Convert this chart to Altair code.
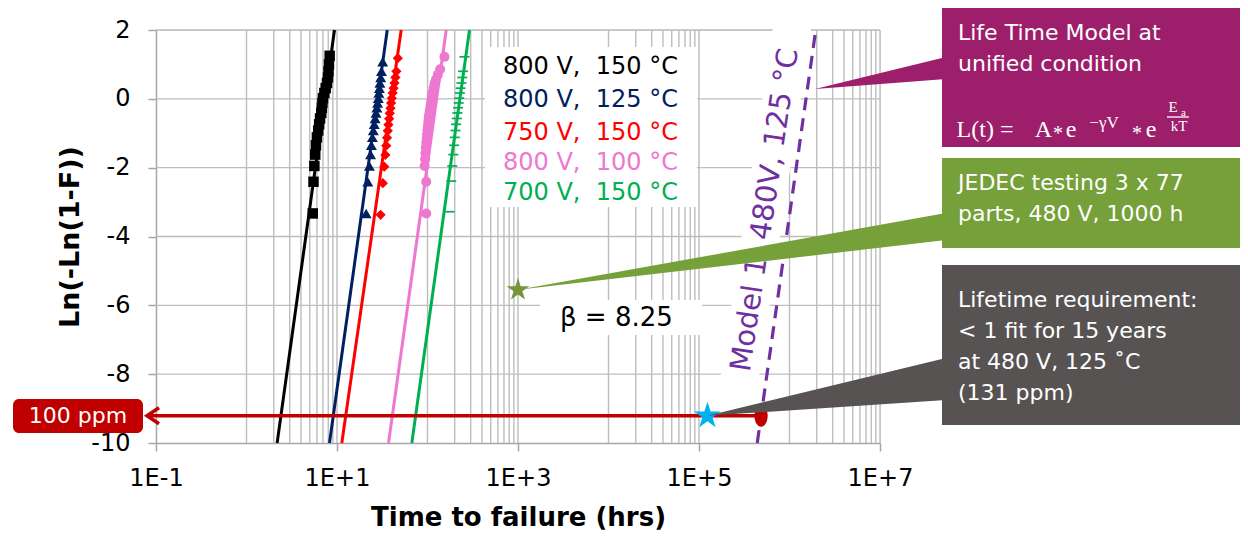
import math
import altair as alt
import pandas as pd

# ---------------------------------------------------------------- data
SERIES = ["800 V,\u00a0 150 °C", "800 V,\u00a0 125 °C", "750 V,\u00a0 150 °C", "800 V,\u00a0 100 °C", "700 V,\u00a0 150 °C"]
COLORS = ["#000000", "#002060", "#FF0000", "#EE77D0", "#00B050"]
SHAPES = ["square", "triangle-up", "diamond", "circle", "M-1,-0.17L1,-0.17L1,0.17L-1,0.17Z"]
SIZES = [110, 120, 105, 100, 100]

black_t = [5.40, 5.50, 5.62, 5.75, 5.85, 6.00, 6.20, 6.35, 6.50, 6.70, 6.80, 6.90, 7.00, 7.25, 7.50, 7.75, 7.95, 8.05, 8.15, 8.30]
black_y = [-3.33, -2.41, -1.95, -1.62, -1.35, -1.12, -0.92, -0.74, -0.57, -0.41, -0.26, -0.12, 0.02, 0.17, 0.31, 0.46, 0.62, 0.80, 1.00, 1.25]
blue_t = [21.0, 21.9, 22.8, 23.5, 24.0, 24.6, 25.2, 25.8, 26.4, 27.0, 27.6, 28.1, 28.6, 29.0, 29.4, 29.8, 30.4, 31.0, 32.0]
blue_y = [-3.33, -2.41, -1.95, -1.62, -1.35, -1.12, -0.92, -0.74, -0.57, -0.41, -0.26, -0.12, 0.02, 0.17, 0.31, 0.46, 0.62, 0.80, 1.08]
red_t = [30.3, 32.1, 33.3, 34.2, 35.0, 35.7, 36.4, 37.0, 37.7, 38.3, 39.0, 39.6, 40.3, 41.2, 42.2, 43.2, 44.2, 45.3, 47.0]
red_y = [-3.37, -2.45, -1.97, -1.63, -1.36, -1.13, -0.93, -0.75, -0.58, -0.42, -0.27, -0.12, 0.02, 0.17, 0.31, 0.46, 0.62, 0.80, 1.18]
pink_t = [96.8, 96.8, 93.0, 94.0, 95.0, 96.0, 97.0, 98.0, 99.0, 100.0, 101.0, 102.0, 103.0, 104.0, 105.5, 107.0, 108.5, 110.0,
          111.5, 113.0, 115.0, 117.0, 119.5, 124.0, 130.0, 138.0, 154.0]
pink_y = [-3.33, -2.41, -1.95, -1.75, -1.58, -1.42, -1.28, -1.15, -1.03, -0.91, -0.80, -0.69, -0.58, -0.48, -0.38, -0.28, -0.18, -0.08,
          0.02, 0.12, 0.22, 0.33, 0.44, 0.56, 0.70, 0.86, 1.22]
green_t = [175, 183, 188, 193, 197, 200, 204, 207, 211, 214, 218, 221, 224, 228, 232, 237, 242, 247, 256]
green_y = [-3.28, -2.39, -1.95, -1.62, -1.35, -1.12, -0.92, -0.74, -0.57, -0.41, -0.26, -0.12, 0.02, 0.17, 0.31, 0.46, 0.62, 0.80, 1.22]
POINT_T = [black_t, blue_t, red_t, pink_t, green_t]
POINT_Y = [black_y, blue_y, red_y, pink_y, green_y]

# Weibull fit lines, read at the bottom (y=-10) and top (y=2) of the plot
FIT_Y = [-10, 2]
FIT_T_LOW = [2.18, 8.26, 11.3, 37.1, 67.1]
FIT_T_HIGH = [9.38, 35.9, 51.2, 161.0, 291.0]
MODEL_T = [4.4e5, 1.95e6]           # "Model 1, 480V, 125 °C" line at y=-10 and y=2

PPM_Y = -9.21                        # ln(-ln(1-100 ppm))
ELLIPSE_T = 4.85e5
BLUE_STAR_T = 1.24e5
GREEN_STAR = (1000.0, -5.55)
BETA_TEXT = "β = 8.25"

X_TICKS = [0.1, 10, 1e3, 1e5, 1e7]
X_TICK_LABELS = ["1E-1", "1E+1", "1E+3", "1E+5", "1E+7"]
Y_TICKS = [-10, -8, -6, -4, -2, 0, 2]
GRID_DECADES = [1, 100, 1e4, 1e6]
GRID_MULT = [1, 2, 3, 4, 5, 6, 7, 8, 9]
GRID_X = [m * d for d in GRID_DECADES for m in GRID_MULT] + [10, 1e3, 1e5, 1e7]
GRID_Y = [-8, -6, -4, -2, 0, 2]

# ---------------------------------------------------------------- layout / style
FONT = "DejaVu Sans"
PLOT_LEFT, PLOT_TOP = 156, 30
PLOT_W, PLOT_H = 724, 413
X_MIN, X_MAX = 0.1, 1e7
Y_MIN, Y_MAX = -10, 2
DEC_PX = PLOT_W / (math.log10(X_MAX) - math.log10(X_MIN))
UNIT_PX = PLOT_H / (Y_MAX - Y_MIN)
GRID_COLOR = "#BDBDBD"
AXIS_COLOR = "#A6A6A6"
PURPLE = "#7030A0"
RED_D = "#C00000"


def ax(px):
    """page pixel x -> data value (annotation layout only)"""
    return 10 ** (math.log10(X_MIN) + (px - PLOT_LEFT) / DEC_PX)


def ay(py):
    return Y_MAX - (py - PLOT_TOP) / UNIT_PX


XS = alt.Scale(type="log", domain=[X_MIN, X_MAX], nice=False)
YS = alt.Scale(domain=[Y_MIN, Y_MAX], nice=False, zero=False)
label_expr = " : ".join(f"datum.value == {v} ? '{l}'" for v, l in zip(X_TICKS, X_TICK_LABELS)) + " : ''"

X_AXIS = alt.Axis(values=X_TICKS, labelExpr=label_expr, grid=False, domainColor=AXIS_COLOR,
                  domainWidth=1.5, tickColor=AXIS_COLOR, tickWidth=1.5, tickSize=8,
                  labelFontSize=24, labelFont=FONT, labelColor="black", labelPadding=34,
                  labelBaseline="alphabetic", labelFlush=False, labelOverlap=False, labelBound=False,
                  titleFont=FONT, titleFontSize=26, titleFontWeight="bold", titleColor="black",
                  titleX=PLOT_W / 2, titleY=82, titleBaseline="alphabetic", titleAlign="center")
Y_AXIS = alt.Axis(values=Y_TICKS, labelExpr="'' + datum.value", grid=False, domainColor=AXIS_COLOR,
                  domainWidth=1.5, tickColor=AXIS_COLOR, tickWidth=1.5, tickSize=8,
                  labelFontSize=24, labelFont=FONT, labelColor="black", labelPadding=18,
                  labelOverlap=False,
                  titleFont=FONT, titleFontSize=27, titleFontWeight="bold", titleColor="black",
                  titleX=-78, titleY=PLOT_H / 2, titleAngle=270, titleBaseline="alphabetic",
                  titleAlign="center")
X_TITLE = "Time to failure (hrs)"
Y_TITLE = "Ln(-Ln(1-F))"


def X(field="t"):
    return alt.X(f"{field}:Q", scale=XS, axis=X_AXIS, title=X_TITLE)


def Y(field="y"):
    return alt.Y(f"{field}:Q", scale=YS, axis=Y_AXIS, title=Y_TITLE)


star_pts = []
for i in range(10):
    r = 1.0 if i % 2 == 0 else 0.382
    a = -math.pi / 2 + i * math.pi / 5
    star_pts.append(f"{r * math.cos(a):.3f},{r * math.sin(a):.3f}")
STAR = "M" + "L".join(star_pts) + "Z"
k, ex = 0.5523, 0.6
ELLIPSE = (f"M0,-1C{k*ex:.3f},-1 {ex},{-k:.3f} {ex},0C{ex},{k:.3f} {k*ex:.3f},1 0,1"
           f"C{-k*ex:.3f},1 {-ex},{k:.3f} {-ex},0C{-ex},{-k:.3f} {-k*ex:.3f},-1 0,-1Z")
ARROW = "M1.5,-1L0,0L1.5,1"

# ---------------------------------------------------------------- layers
grid_v = alt.Chart(pd.DataFrame({"t": GRID_X})).mark_rule(color=GRID_COLOR, strokeWidth=1.4).encode(x=X())
grid_h = alt.Chart(pd.DataFrame({"y": GRID_Y})).mark_rule(color=GRID_COLOR, strokeWidth=1.4).encode(y=Y())

# white backgrounds of the text boxes inside the plot
white_boxes = pd.DataFrame({
    "t": [ax(485), ax(540)], "t2": [ax(697), ax(702)],
    "y": [ay(47), ay(300)], "y2": [ay(207), ay(335)],
})
whites = alt.Chart(white_boxes).mark_rect(color="white").encode(x=X(), x2="t2:Q", y=Y(), y2="y2:Q")
model_band = alt.Chart(pd.DataFrame({"t": [ax(737.7), ax(793)], "y": [ay(390), ay(22)]})).mark_line(
    color="white", strokeWidth=38, strokeCap="butt").encode(x=X(), y=Y())

fit_rows = []
for s, c, lo, hi in zip(SERIES, COLORS, FIT_T_LOW, FIT_T_HIGH):
    fit_rows += [{"series": s, "color": c, "t": lo, "y": FIT_Y[0]}, {"series": s, "color": c, "t": hi, "y": FIT_Y[1]}]
fits = alt.Chart(pd.DataFrame(fit_rows)).mark_line(strokeWidth=3).encode(
    x=X(), y=Y(), color=alt.Color("color:N", scale=None), detail="series:N")

model_line = alt.Chart(pd.DataFrame({"t": MODEL_T, "y": FIT_Y})).mark_line(
    color=PURPLE, strokeWidth=3.2, strokeDash=[13, 8]).encode(x=X(), y=Y())

pt_rows = []
for s, c, sh, sz, ts, ys in zip(SERIES, COLORS, SHAPES, SIZES, POINT_T, POINT_Y):
    for t, y in zip(ts, ys):
        pt_rows.append({"series": s, "color": c, "shape": sh, "size": sz, "t": t, "y": y})
points = alt.Chart(pd.DataFrame(pt_rows)).mark_point(filled=True, opacity=1).encode(
    x=X(), y=Y(), color=alt.Color("color:N", scale=None), shape=alt.Shape("shape:N", scale=None),
    size=alt.Size("size:Q", scale=None))

arrow_tip_t = ax(147)
red_line = alt.Chart(pd.DataFrame({"t": [arrow_tip_t, ELLIPSE_T], "y": [PPM_Y, PPM_Y]})).mark_line(
    color=RED_D, strokeWidth=3.5).encode(x=X(), y=Y())
arrow = alt.Chart(pd.DataFrame({"t": [arrow_tip_t], "y": [PPM_Y]})).mark_point(
    shape=ARROW, filled=False, color=RED_D, strokeWidth=3.5, size=256, opacity=1).encode(x=X(), y=Y())
ellipse = alt.Chart(pd.DataFrame({"t": [ELLIPSE_T], "y": [PPM_Y]})).mark_point(
    shape=ELLIPSE, filled=True, color=RED_D, size=484, opacity=1).encode(x=X(), y=Y())
blue_star = alt.Chart(pd.DataFrame({"t": [BLUE_STAR_T], "y": [PPM_Y]})).mark_point(
    shape=STAR, filled=True, color="#00B0F0", size=784, opacity=1).encode(x=X(), y=Y())
green_star = alt.Chart(pd.DataFrame({"t": [GREEN_STAR[0]], "y": [GREEN_STAR[1]]})).mark_point(
    shape=STAR, filled=True, color="#77933C", size=576, opacity=1).encode(x=X(), y=Y())

legend_y_px = [67, 100, 133, 163, 193]
legend = alt.Chart(pd.DataFrame({"label": SERIES, "color": COLORS, "t": [ax(503)] * 5,
                                 "y": [ay(p) for p in legend_y_px]})).mark_text(
    align="left", baseline="middle", fontSize=24, font=FONT).encode(
    x=X(), y=Y(), text="label:N", color=alt.Color("color:N", scale=None))

beta = alt.Chart(pd.DataFrame({"t": [ax(560)], "y": [ay(318)], "label": [BETA_TEXT]})).mark_text(
    align="left", baseline="middle", fontSize=26, font=FONT, color="black").encode(x=X(), y=Y(), text="label:N")

model_label = alt.Chart(pd.DataFrame({"t": [ax(765)], "y": [ay(210)], "label": ["Model 1, 480V, 125 °C"]})).mark_text(
    angle=278.5, align="center", baseline="middle", fontSize=29, font=FONT, color=PURPLE).encode(
    x=X(), y=Y(), text="label:N")

# callout wedges (tip -> box edge)
BOX_PURPLE, BOX_GREEN, BOX_GRAY = "#9D1F6B", "#76A03A", "#575352"
wedge_rows = [
    {"id": "p", "color": BOX_PURPLE, "t": ax(815), "y": ay(89), "y2": ay(89)},
    {"id": "p", "color": BOX_PURPLE, "t": ax(946), "y": ay(57), "y2": ay(79)},
    {"id": "g", "color": BOX_GREEN, "t": GREEN_STAR[0], "y": GREEN_STAR[1], "y2": GREEN_STAR[1]},
    {"id": "g", "color": BOX_GREEN, "t": ax(946), "y": ay(213), "y2": ay(240)},
    {"id": "k", "color": BOX_GRAY, "t": BLUE_STAR_T, "y": PPM_Y, "y2": PPM_Y},
    {"id": "k", "color": BOX_GRAY, "t": ax(946), "y": ay(358), "y2": ay(400)},
]
wedges = alt.Chart(pd.DataFrame(wedge_rows)).mark_area(opacity=1).encode(
    x=X(), y=Y(), y2="y2:Q", color=alt.Color("color:N", scale=None), detail="id:N")

box_rows = pd.DataFrame({
    "color": [BOX_PURPLE, BOX_GREEN, BOX_GRAY, RED_D],
    "t": [ax(942), ax(942), ax(942), ax(13)], "t2": [ax(1243), ax(1243), ax(1243), ax(143)],
    "y": [ay(3), ay(158), ay(265), ay(399)], "y2": [ay(147), ay(248), ay(425), ay(433)],
})
boxes = alt.Chart(box_rows.iloc[:3]).mark_rect().encode(
    x=X(), x2="t2:Q", y=Y(), y2="y2:Q", color=alt.Color("color:N", scale=None))
ppm_box = alt.Chart(box_rows.iloc[3:]).mark_rect(cornerRadius=6).encode(
    x=X(), x2="t2:Q", y=Y(), y2="y2:Q", color=alt.Color("color:N", scale=None))

BOX_LINES = ["Life Time Model at", "unified condition",
             "JEDEC testing 3 x 77", "parts, 480 V, 1000 h",
             "Lifetime requirement:", "< 1 fit for 15 years", "at 480 V, 125 ˚C", "(131 ppm)"]
box_line_px = [33, 64, 183, 214, 300, 331, 362, 393]
box_text = alt.Chart(pd.DataFrame({"label": BOX_LINES, "t": [ax(958)] * len(BOX_LINES),
                                   "y": [ay(p) for p in box_line_px]})).mark_text(
    align="left", baseline="middle", fontSize=22, font=FONT, color="white").encode(x=X(), y=Y(), text="label:N")
ppm_text = alt.Chart(pd.DataFrame({"label": ["100 ppm"], "t": [ax(78)], "y": [ay(416)]})).mark_text(
    align="center", baseline="middle", fontSize=22, font=FONT, color="white").encode(x=X(), y=Y(), text="label:N")

# formula  L(t) = A * e^(-γV) * e^(Ea/kT)
FORMULA = ["L(t) =", "A", "*", "e", "−γV", "*", "e", "E", "a", "kT"]
formula_px = [(985, 137, 24), (1043.5, 137, 24), (1058, 140, 20), (1071, 137, 24), (1104, 128, 17),
              (1137, 140, 20), (1151, 137, 24), (1173, 112, 15), (1183.5, 116, 11), (1179, 131, 15)]
formula = alt.Chart(pd.DataFrame({"label": FORMULA, "t": [ax(p[0]) for p in formula_px],
                                  "y": [ay(p[1]) for p in formula_px], "fs": [p[2] for p in formula_px]})).mark_text(
    align="center", baseline="alphabetic", font="Liberation Serif", color="white").encode(
    x=X(), y=Y(), text="label:N", size=alt.Size("fs:Q", scale=None))
frac_bar = alt.Chart(pd.DataFrame({"t": [ax(1167)], "t2": [ax(1189)], "y": [ay(117)]})).mark_rule(
    color="white", strokeWidth=1.3).encode(x=X(), x2="t2:Q", y=Y())

chart = alt.layer(
    grid_v, grid_h, whites, model_band, fits, model_line, points,
    red_line, arrow, ellipse, blue_star, green_star, legend, beta, model_label,
    wedges, boxes, ppm_box, box_text, ppm_text, formula, frac_bar,
).properties(
    width=PLOT_W, height=PLOT_H,
    autosize=alt.AutoSizeParams(type="none"),
    padding={"left": PLOT_LEFT - 8, "top": PLOT_TOP - 8, "right": 360, "bottom": 88},
    background="white",
).configure_view(stroke=None).configure(font=FONT)

chart.save("out.html", embed_options={"renderer": "svg", "actions": False})
